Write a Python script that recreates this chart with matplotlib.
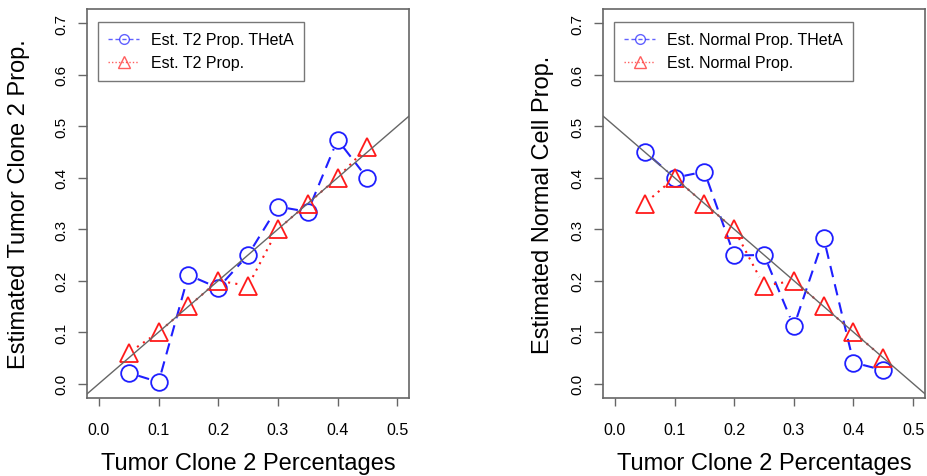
import numpy as np
import matplotlib
matplotlib.use('Agg')
import matplotlib.pyplot as plt
from matplotlib.lines import Line2D

plt.rcParams['font.family'] = ['Liberation Sans', 'DejaVu Sans']

# tumor clone 2 percentages (x) shared by both panels
pct = [0.05, 0.10, 0.15, 0.20, 0.25, 0.30, 0.35, 0.40, 0.45]

# left panel: estimated tumor clone 2 proportion
t2_theta = [0.021, 0.003, 0.211, 0.186, 0.250, 0.344, 0.334, 0.474, 0.399]
t2_est = [0.06, 0.10, 0.15, 0.20, 0.19, 0.30, 0.35, 0.40, 0.46]

# right panel: estimated normal cell proportion
nrm_theta = [0.451, 0.400, 0.412, 0.249, 0.250, 0.111, 0.283, 0.041, 0.026]
nrm_est = [0.35, 0.40, 0.35, 0.30, 0.19, 0.20, 0.15, 0.10, 0.05]

xticks = [0.0, 0.1, 0.2, 0.3, 0.4, 0.5]
yticks = [0.0, 0.1, 0.2, 0.3, 0.4, 0.5, 0.6, 0.7]

BLUE = '#1f1fff'
RED = '#ff1a1a'
GREY = '#666666'
blue_ls = (0, (5.5, 3.5))
red_ls = (0, (1, 2.5))

fig = plt.figure(figsize=(9.27, 4.77), dpi=100)


def gapped_line(ax, x, y, color, ls, gap=10):
    # R type="b": segments stop short of the points
    pts = ax.transData.transform(np.column_stack([x, y]))
    inv = ax.transData.inverted()
    for p0, p1 in zip(pts[:-1], pts[1:]):
        d = p1 - p0
        L = np.hypot(*d)
        if L <= 2 * gap:
            continue
        u = d / L
        seg = inv.transform(np.array([p0 + u * gap, p1 - u * gap]))
        ax.plot(seg[:, 0], seg[:, 1], color=color, ls=ls, lw=1.5,
                dash_capstyle='butt', zorder=2)


def panel(rect, ytheta, yest, ylabel, lab_theta, lab_est, line_fn, ylab_x):
    ax = fig.add_axes(rect)
    ax.set_xlim(-0.02, 0.52)
    ax.set_ylim(-0.028, 0.728)

    gapped_line(ax, pct, ytheta, BLUE, blue_ls)
    gapped_line(ax, pct, yest, RED, red_ls)
    ax.plot(pct, ytheta, ls='none', marker='o', ms=12, mfc='none',
            mec=BLUE, mew=1.3, zorder=3)
    ax.plot(pct, yest, ls='none', marker='^', ms=13.5, mfc='none',
            mec=RED, mew=1.3, zorder=3)

    xx = np.array([-0.02, 0.52])
    ax.plot(xx, line_fn(xx), color=GREY, lw=1, zorder=4)

    for s in ax.spines.values():
        s.set_color(GREY)
        s.set_linewidth(1.2)

    ax.set_xticks(xticks)
    ax.set_xticklabels(['%.1f' % v for v in xticks], fontsize=11.5)
    ax.set_yticks(yticks)
    ax.set_yticklabels(['%.1f' % v for v in yticks], fontsize=11,
                       rotation=90, va='center', ha='right')
    ax.tick_params(axis='x', length=6, width=1, color=GREY, pad=11)
    ax.tick_params(axis='y', length=6.5, width=1, color=GREY, pad=7)

    ax.set_xlabel('Tumor Clone 2 Percentages', fontsize=17)
    ax.xaxis.set_label_coords(0.5, -0.167)
    ax.xaxis.label.set_va('center')
    ax.set_ylabel(ylabel, fontsize=17)
    ax.yaxis.set_label_coords(ylab_x, 0.5)
    ax.yaxis.label.set_va('center')

    h1 = Line2D([], [], color=BLUE, ls=(0, (3, 2)), lw=1, marker='o',
                ms=7, mfc='none', mew=1, alpha=0.7)
    h2 = Line2D([], [], color=RED, ls=(0, (1, 1.5)), lw=1, marker='^',
                ms=8, mfc='none', mew=1, alpha=0.7)
    leg = ax.legend([h1, h2], [lab_theta, lab_est], loc='upper left',
                    bbox_to_anchor=(0.034, 0.967), borderaxespad=0,
                    fontsize=11.5, frameon=True, fancybox=False,
                    framealpha=1, edgecolor='#777777', handlelength=1.9,
                    handletextpad=0.75, labelspacing=0.5, borderpad=0.65)
    leg.get_frame().set_linewidth(1)
    return ax


panel([0.0939, 0.1635, 0.3474, 0.8155], t2_theta, t2_est,
      'Estimated Tumor Clone 2 Prop.', 'Est. T2 Prop. THetA',
      'Est. T2 Prop.', lambda x: x, -0.21)
panel([0.6505, 0.1635, 0.3474, 0.8155], nrm_theta, nrm_est,
      'Estimated Normal Cell Prop.', 'Est. Normal Prop. THetA',
      'Est. Normal Prop.', lambda x: 0.5 - x, -0.185)

fig.savefig('out.png', dpi=100)
